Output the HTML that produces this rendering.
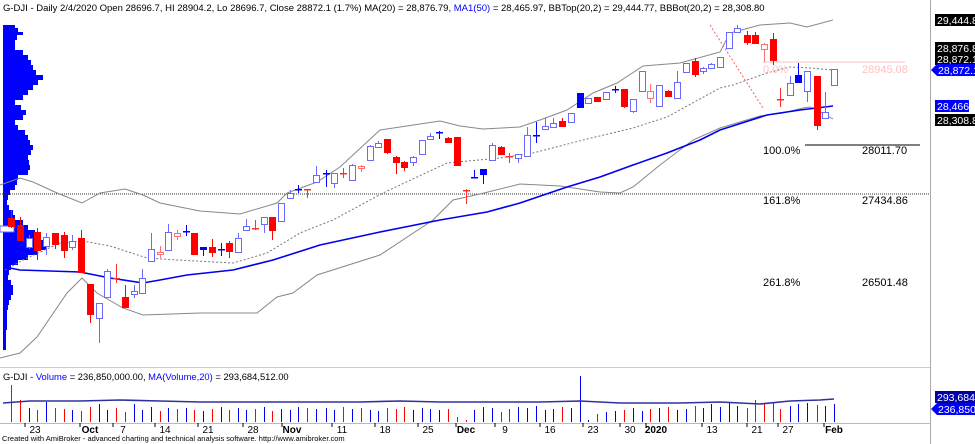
<!DOCTYPE html>
<html><head><meta charset="utf-8"><style>
body{margin:0;background:#fff;}
svg{display:block;font-family:"Liberation Sans",Arial,sans-serif;}
</style></head><body>
<svg id="s" width="975" height="444" viewBox="0 0 975 444" xmlns="http://www.w3.org/2000/svg">
<rect width="975" height="444" fill="#fff"/>
<g id="prof" fill="#0000ff"></g>
<line x1="0" y1="194" x2="930" y2="194" stroke="#333" stroke-dasharray="1,1"/>
<polyline fill="none" stroke="#888" stroke-width="1" points="0,185 20,178 33,182 57,193 82,203 100,193 125,189 143,195 160,203 200,211 240,214 277,203 287,193 317,182 340,167 380,130 400,127 440,121 460,126 483,129 520,127 540,120 567,110 593,93 617,83 643,66 680,63 720,52 730,33 760,25 790,23 807,27 833,20"/>
<polyline fill="none" stroke="#888" stroke-width="1" points="0,358 20,353 37,337 67,293 82,278 97,293 123,308 143,315 200,313 257,313 277,297 293,293 317,275 380,255 433,220 453,200 480,194 520,184 560,186 600,192 620,193 633,187 660,165 693,140 720,128 760,116 783,113 803,108 810,107 817,110 833,119"/>
<polyline fill="none" stroke="#777" stroke-width="1" stroke-dasharray="2,2" points="5,270 23,260 60,243 83,241 110,246 147,258 177,260 233,263 267,253 300,233 320,225 333,220 383,193 447,163 500,158 533,153 583,140 633,128 667,117 720,88 733,85 767,73 790,67 810,68 833,70"/>
<polyline fill="none" stroke="#0000ee" stroke-width="1.6" points="5,267 20,270 80,272 110,278 143,283 160,280 187,275 233,270 273,260 320,245 380,232 440,220 487,212 520,203 567,187 600,177 633,165 667,153 700,140 720,130 767,115 800,110 833,106"/>
<line x1="710" y1="25" x2="763" y2="108" stroke="#ff6060" stroke-dasharray="2,2"/>
<line x1="763" y1="62" x2="905" y2="62" stroke="#ffc0c0"/>
<text x="763" y="73" font-size="11" fill="#ffc0c0">0.0%</text>
<text x="862" y="73" font-size="11" fill="#ffc0c0">28945.08</text>
<line x1="805" y1="145" x2="920" y2="145" stroke="#000"/>
<text x="763" y="154" font-size="11" fill="#000">100.0%</text>
<text x="862" y="154" font-size="11" fill="#000">28011.70</text>
<text x="763" y="204" font-size="11" fill="#000">161.8%</text>
<text x="862" y="204" font-size="11" fill="#000">27434.86</text>
<text x="763" y="286" font-size="11" fill="#000">261.8%</text>
<text x="862" y="286" font-size="11" fill="#000">26501.48</text>
<g id="c"></g>
<g id="v"></g>
<polyline fill="none" stroke="#3030a0" stroke-width="1.6" points="3,403 30,401 80,401 120,400 160,401 200,402 260,402 300,402 360,402 400,401 440,402 500,402 540,402 580,401 620,403 680,403 720,402 760,404 790,401 820,400 834,399"/>
<text x="3" y="11" font-size="9.5" fill="#000">G-DJI - Daily 2/4/2020 Open 28696.7, HI 28904.2, Lo 28696.7, Close 28872.1 (1.7%) MA(20) = 28,876.79, <tspan fill="#0000ff">MA1(50)</tspan> = 28,465.97, BBTop(20,2) = 29,444.77, BBBot(20,2) = 28,308.80</text>
<text x="3" y="380" font-size="9.4" fill="#000">G-DJI - <tspan fill="#0000ff">Volume</tspan> = 236,850,000.00, <tspan fill="#0000ff">MA(Volume,20)</tspan> = 293,684,512.00</text>
<line x1="930.5" y1="0" x2="930.5" y2="444" stroke="#aaa"/>
<line x1="0" y1="367.5" x2="930" y2="367.5" stroke="#ccc"/>
<line x1="0" y1="423.5" x2="930" y2="423.5" stroke="#bbb"/>
<g font-size="10.5">
<rect x="935" y="14" width="40" height="12" fill="#000"/><text x="937" y="24" fill="#fff">29,444.8</text>
<rect x="935" y="42" width="40" height="12" fill="#000"/><text x="937" y="52" fill="#fff">28,876.8</text>
<rect x="935" y="53" width="40" height="12" fill="#000"/><text x="937" y="63" fill="#fff">28,872.1</text>
<polygon points="931,70 937,64 975,64 975,76 937,76" fill="#0000ff"/><text x="938" y="74" fill="#fff">28,872.1</text>
<rect x="935" y="100" width="34" height="12" fill="#0000ff"/><text x="937" y="110" fill="#fff">28,466</text>
<rect x="935" y="114" width="40" height="12" fill="#000"/><text x="937" y="124" fill="#fff">28,308.8</text>
<rect x="935" y="391" width="40" height="12" fill="#0000aa"/><text x="937" y="401" fill="#fff">293,684,</text>
<polygon points="931,409 937,403 975,403 975,415 937,415" fill="#0000ff"/><text x="938" y="413" fill="#fff">236,850,</text>
</g>
<g id="t" font-size="10" fill="#000"></g>
<text x="2" y="441" font-size="7.5" fill="#000">Created with AmiBroker - advanced charting and technical analysis software. http://www.amibroker.com</text>
</svg>
<script>
var NS="http://www.w3.org/2000/svg";
function el(p,n,a){var e=document.createElementNS(NS,n);for(var k in a)e.setAttribute(k,a[k]);p.appendChild(e);return e;}
var prof=[[25,12],[28,15],[32,20],[35,14],[40,12],[45,12],[50,20],[55,25],[60,28],[65,30],[70,33],[75,40],[80,35],[85,30],[90,25],[95,20],[100,12],[105,18],[110,23],[115,20],[120,12],[125,15],[130,22],[135,25],[140,27],[145,30],[150,28],[155,25],[160,26],[165,27],[170,25],[175,15],[180,14],[185,12],[190,7],[195,5],[200,4],[205,6],[210,10],[215,12],[220,20],[225,25],[230,32],[235,38],[240,40],[245,43],[250,35],[255,25],[260,15],[265,8],[270,6],[275,5],[280,8],[285,10],[290,10],[295,8],[300,6],[305,5],[310,4],[320,4],[330,3],[340,3]];
var P=document.getElementById("prof");
for(var i=0;i<prof.length;i++){var y=prof[i][0],ny=i+1<prof.length?prof[i+1][0]:350;el(P,"rect",{x:3,y:y,width:prof[i][1],height:ny-y});}
el(P,"rect",{x:0,y:226,width:14,height:6,fill:"#fff",stroke:"#66f"});
var C=[
[11,218,226,210,228,"R"],[20,225,240,217,240,"R"],[29,238,247,235,249,"H"],[37,232,250,228,260,"R"],[46,237,246,233,255,"H"],[55,233,244,233,249,"R"],[64,235,250,232,258,"R"],[72,241,247,235,250,"H"],[81,238,272,230,272,"R"],[90,284,314,284,323,"R"],[99,303,318,303,343,"H"],[107,271,297,269,297,"H"],[116,278,279,264,283,"d"],[125,297,307,285,307,"R"],[134,291,294,285,298,"H"],[142,278,293,269,293,"H"],[151,249,261,233,261,"H"],[160,252,254,246,258,"h"],[168,232,250,224,250,"H"],[177,233,236,230,240,"h"],[186,231,232,225,236,"D"],[194,233,254,233,254,"R"],[203,247,249,247,256,"B"],[212,247,252,239,257,"R"],[221,249,250,243,256,"D"],[229,243,251,241,258,"R"],[238,238,252,233,252,"H"],[246,226,230,219,230,"H"],[255,228,229,220,230,"d"],[264,217,224,217,233,"H"],[272,217,230,217,240,"R"],[281,203,221,203,221,"H"],[290,193,198,190,198,"H"],[298,189,190,185,193,"D"],[307,189,190,189,198,"d"],[316,175,182,166,182,"H"],
[326,173,174,170,187,"D"],[334,173,183,173,188,"H"],[343,173,174,168,178,"d"],[352,165,180,164,181,"H"],[361,166,168,165,172,"h"],[370,146,160,145,160,"H"],[378,143,147,141,148,"H"],[387,139,152,139,154,"R"],[396,157,162,156,174,"R"],[404,162,167,161,171,"R"],[413,157,162,156,166,"H"],[422,140,154,140,154,"H"],[430,136,139,133,140,"H"],[439,132,133,131,139,"D"],[448,138,142,137,143,"R"],[457,137,165,137,165,"R"],[466,190,191,189,204,"d"],[474,177,178,170,178,"D"],[483,169,174,169,184,"B"],[492,145,160,143,160,"H"],[501,147,154,146,155,"R"],[509,156,157,153,163,"d"],[518,154,158,154,163,"H"],[527,135,156,127,156,"H"],[536,135,136,122,143,"D"],[545,126,129,118,129,"H"],[553,123,127,118,127,"H"],[562,121,126,118,126,"R"],[571,113,122,113,122,"H"],[580,93,107,93,107,"B"],[588,98,103,98,103,"H"],[597,97,101,97,101,"R"],[606,92,99,92,99,"H"],[615,89,90,86,93,"D"],[624,89,106,89,108,"R"],[633,99,111,99,113,"H"],[642,71,91,71,91,"H"],[650,91,98,84,103,"h"],[659,85,106,85,107,"H"],[668,91,96,90,97,"R"],[677,82,98,71,98,"H"],[686,63,72,63,72,"H"],[695,61,74,58,77,"R"],[703,68,71,67,74,"H"],[711,64,68,63,68,"H"],[720,57,67,57,67,"H"],[729,32,48,32,48,"H"],[737,28,32,25,32,"H"],[747,35,42,31,45,"R"],[755,35,43,32,43,"R"],[764,44,49,43,62,"h"],[773,39,60,33,65,"R"],[780,99,100,88,107,"d"],[790,83,95,76,95,"H"],[798,75,82,63,82,"B"],[807,71,91,71,102,"H"],[817,76,125,76,130,"R"],[825,112,118,92,118,"H"],[834,69,85,69,85,"H"]];
var G=document.getElementById("c"),V=document.getElementById("v");
var cols={R:"#ff0000",H:"#6a6aff",B:"#0000ff",h:"#ff7070",D:"#0000ff",d:"#ff3030"};
var vh=[37,22,14,12,20,14,13,12,11,15,18,12,14,10,18,12,15,11,14,13,14,12,11,13,15,12,14,12,13,15,11,13,12,15,14,13,14,12,15,13,14,12,11,14,13,15,12,14,13,12,13,5,2,12,15,14,10,13,15,14,16,12,13,15,14,46,2,8,10,11,12,14,11,13,14,15,12,13,16,14,18,15,20,16,14,22,18,20,13,16,18,19,17,16,18,20,12];
for(var i=0;i<C.length;i++){var c=C[i],col=cols[c[5]];
 el(G,"line",{x1:c[0]+.5,y1:c[3],x2:c[0]+.5,y2:c[4],stroke:col});
 var hollow=(c[5]=="H"||c[5]=="h");
 if(c[5]=="D"||c[5]=="d"){el(G,"rect",{x:c[0]-3,y:c[1],width:7,height:1.5,fill:col});}
 else el(G,"rect",{x:c[0]-2.5,y:c[1]+.5,width:6,height:c[2]-c[1],fill:hollow?"#fff":col,stroke:col});
 var red=(c[5]=="R"||c[5]=="h"||c[5]=="d");var h=vh[i%vh.length];
 el(V,"line",{x1:c[0]+.5,y1:422-h,x2:c[0]+.5,y2:422,stroke:red?"#ff0000":"#0000ee"});
}
var T=[[35,"23"],[90,"Oct",1],[123,"7"],[165,"14"],[208,"21"],[253,"28"],[292,"Nov",1],[342,"11"],[385,"18"],[428,"25"],[466,"Dec",1],[505,"9"],[550,"16"],[593,"23"],[630,"30"],[656,"2020",1],[712,"13"],[757,"21"],[788,"27"],[834,"Feb",1]];
var Tg=document.getElementById("t");
for(var i=0;i<T.length;i++){var t=el(Tg,"text",{x:T[i][0],y:433,"text-anchor":"middle"});if(T[i][2])t.setAttribute("font-weight","bold");t.textContent=T[i][1];
 el(Tg,"line",{x1:T[i][0]-10,y1:423,x2:T[i][0]-10,y2:427,stroke:"#000"});}
</script>
</body></html>
